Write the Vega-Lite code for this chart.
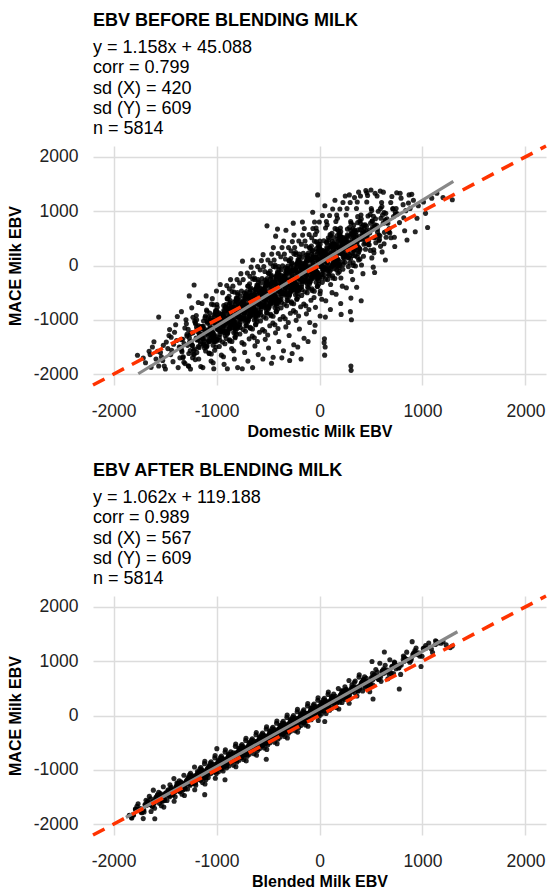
{
"$schema": "https://vega.github.io/schema/vega-lite/v6.json",
"background": "white",
"padding": {"left": 7, "top": 12, "right": 0, "bottom": 0},
"spacing": 23,
"config": {
 "view": {"stroke": null},
 "font": "Liberation Sans",
 "axis": {"grid": true, "gridColor": "#dcdcdc", "gridWidth": 1.5, "domain": false, "ticks": false, "labelFont": "Liberation Sans", "labelFontSize": 17.5, "labelColor": "#222222", "titleFont": "Liberation Sans", "titleFontSize": 16, "titleFontWeight": "bold", "titleColor": "#000000", "labelExpr": "datum.value + ''"},
 "axisX": {"labelPadding": 17, "titlePadding": 3.5},
 "axisY": {"labelPadding": 15, "titlePadding": 10},
 "title": {"anchor": "start", "frame": "group", "font": "Liberation Sans", "fontSize": 18, "fontWeight": "bold", "color": "#000000", "subtitleFont": "Liberation Sans", "subtitleFontSize": 18, "subtitleColor": "#000000", "subtitleLineHeight": 20.2, "subtitlePadding": 9, "offset": 1}
},
"datasets": {
"before": [
{"x":-1768,"y":-1652},{"x":-1712,"y":-1705},{"x":-1655,"y":-1580},{"x":-1690,"y":-1790},{"x":-1562,"y":-950},
{"x":-1645,"y":-1640},{"x":-1588,"y":-1720},{"x":-1623,"y":-1500},{"x":-1562,"y":-1850},{"x":-1608,"y":-1405},{"x":-1573,"y":-1580},{"x":-1636,"y":-1875},
{"x":-1545,"y":-1600},{"x":-1488,"y":-1410},{"x":-1523,"y":-1750},{"x":-1462,"y":-1290},{"x":-1508,"y":-1850},{"x":-1473,"y":-1530},{"x":-1536,"y":-1680},{"x":-1497,"y":-1905},{"x":-1456,"y":-1180},{"x":-1517,"y":-1470},
{"x":-1445,"y":-1640},{"x":-1388,"y":-1380},{"x":-1423,"y":-1770},{"x":-1362,"y":-1500},{"x":-1408,"y":-1230},{"x":-1373,"y":-1880},{"x":-1436,"y":-1560},{"x":-1397,"y":-1090},{"x":-1356,"y":-1700},{"x":-1417,"y":-1450},{"x":-1381,"y":-940},{"x":-1441,"y":-1320},
{"x":-1345,"y":-1520},{"x":-1288,"y":-1300},{"x":-1323,"y":-1680},{"x":-1262,"y":-1410},{"x":-1308,"y":-1150},{"x":-1273,"y":-1850},{"x":-1336,"y":-1590},{"x":-1297,"y":-1000},{"x":-1256,"y":-1260},{"x":-1317,"y":-1780},{"x":-1281,"y":-1470},{"x":-1341,"y":-850},{"x":-1269,"y":-1620},{"x":-1329,"y":-1360},{"x":-1253,"y":-1905},{"x":-1265,"y":-560},
{"x":-1245,"y":-1400},{"x":-1188,"y":-1180},{"x":-1223,"y":-1560},{"x":-1162,"y":-1290},{"x":-1208,"y":-1050},{"x":-1173,"y":-1720},{"x":-1236,"y":-1470},{"x":-1197,"y":-920},{"x":-1156,"y":-1130},{"x":-1217,"y":-1640},{"x":-1181,"y":-1350},{"x":-1241,"y":-780},{"x":-1169,"y":-1510},{"x":-1229,"y":-1240},{"x":-1153,"y":-1860},{"x":-1212,"y":-1020},{"x":-1192,"y":-1600},{"x":-1218,"y":-360},{"x":-1177,"y":-680},
{"x":-1145,"y":-1280},{"x":-1088,"y":-1060},{"x":-1123,"y":-1440},{"x":-1062,"y":-1170},{"x":-1108,"y":-930},{"x":-1073,"y":-1610},{"x":-1136,"y":-1350},{"x":-1097,"y":-820},{"x":-1056,"y":-1010},{"x":-1117,"y":-1520},{"x":-1081,"y":-1230},{"x":-1141,"y":-700},{"x":-1069,"y":-1390},{"x":-1129,"y":-1120},{"x":-1053,"y":-1760},{"x":-1112,"y":-960},{"x":-1092,"y":-1480},{"x":-1078,"y":-1300},{"x":-1133,"y":-1880},{"x":-1101,"y":-560},{"x":-1058,"y":-1200},
{"x":-1045,"y":-1150},{"x":-988,"y":-950},{"x":-1023,"y":-1320},{"x":-962,"y":-1060},{"x":-1008,"y":-830},{"x":-973,"y":-1490},{"x":-1036,"y":-1230},{"x":-997,"y":-720},{"x":-956,"y":-900},{"x":-1017,"y":-1400},{"x":-981,"y":-1120},{"x":-1041,"y":-610},{"x":-969,"y":-1270},{"x":-1029,"y":-1000},{"x":-953,"y":-1650},{"x":-1012,"y":-860},{"x":-992,"y":-1360},{"x":-978,"y":-1190},{"x":-1033,"y":-1790},{"x":-1001,"y":-470},{"x":-958,"y":-1080},{"x":-1019,"y":-1560},{"x":-985,"y":-980},{"x":-964,"y":-350},{"x":-1027,"y":-1900},
{"x":-945,"y":-1030},{"x":-888,"y":-840},{"x":-923,"y":-1200},{"x":-862,"y":-950},{"x":-908,"y":-720},{"x":-873,"y":-1370},{"x":-936,"y":-1110},{"x":-897,"y":-610},{"x":-856,"y":-790},{"x":-917,"y":-1290},{"x":-881,"y":-1000},{"x":-941,"y":-500},{"x":-869,"y":-1150},{"x":-929,"y":-890},{"x":-853,"y":-1530},{"x":-912,"y":-760},{"x":-892,"y":-1240},{"x":-878,"y":-1070},{"x":-933,"y":-1680},{"x":-901,"y":-370},{"x":-858,"y":-960},{"x":-919,"y":-1440},{"x":-885,"y":-870},{"x":-864,"y":-260},{"x":-927,"y":-1820},{"x":-905,"y":-1060},{"x":-871,"y":-680},{"x":-938,"y":-1160},{"x":-895,"y":-1900},{"x":-876,"y":-430},
{"x":-845,"y":-910},{"x":-788,"y":-720},{"x":-823,"y":-1090},{"x":-762,"y":-830},{"x":-808,"y":-600},{"x":-773,"y":-1260},{"x":-836,"y":-990},{"x":-797,"y":-500},{"x":-756,"y":-680},{"x":-817,"y":-1170},{"x":-781,"y":-880},{"x":-841,"y":-380},{"x":-769,"y":-1040},{"x":-829,"y":-770},{"x":-753,"y":-1420},{"x":-812,"y":-640},{"x":-792,"y":-1130},{"x":-778,"y":-950},{"x":-833,"y":-1570},{"x":-801,"y":-260},{"x":-758,"y":-840},{"x":-819,"y":-1330},{"x":-785,"y":-750},{"x":-764,"y":-150},{"x":-827,"y":-1720},{"x":-805,"y":-940},{"x":-771,"y":-560},{"x":-838,"y":-1050},{"x":-795,"y":-1880},{"x":-776,"y":-320},{"x":-748,"y":80},{"x":-815,"y":-1230},{"x":-787,"y":-1010},{"x":-750,"y":-1900},
{"x":-745,"y":-790},{"x":-688,"y":-600},{"x":-723,"y":-970},{"x":-662,"y":-710},{"x":-708,"y":-480},{"x":-673,"y":-1140},{"x":-736,"y":-870},{"x":-697,"y":-380},{"x":-656,"y":-560},{"x":-717,"y":-1050},{"x":-681,"y":-760},{"x":-741,"y":-260},{"x":-669,"y":-920},{"x":-729,"y":-650},{"x":-653,"y":-1300},{"x":-712,"y":-520},{"x":-692,"y":-1010},{"x":-678,"y":-830},{"x":-733,"y":-1450},{"x":-701,"y":-140},{"x":-658,"y":-720},{"x":-719,"y":-1210},{"x":-685,"y":-630},{"x":-664,"y":-30},{"x":-727,"y":-1600},{"x":-705,"y":-820},{"x":-671,"y":-440},{"x":-738,"y":-930},{"x":-695,"y":-1760},{"x":-676,"y":-200},{"x":-648,"y":100},{"x":-715,"y":-1110},{"x":-687,"y":-890},{"x":-650,"y":-1880},{"x":-722,"y":-560},{"x":-683,"y":-1350},{"x":-660,"y":-700},
{"x":-645,"y":-670},{"x":-588,"y":-480},{"x":-623,"y":-850},{"x":-562,"y":-590},{"x":-608,"y":-360},{"x":-573,"y":-1020},{"x":-636,"y":-750},{"x":-597,"y":-260},{"x":-556,"y":-440},{"x":-617,"y":-930},{"x":-581,"y":-640},{"x":-641,"y":-140},{"x":-569,"y":-800},{"x":-629,"y":-530},{"x":-553,"y":-1180},{"x":-612,"y":-400},{"x":-592,"y":-890},{"x":-578,"y":-710},{"x":-633,"y":-1330},{"x":-601,"y":-20},{"x":-558,"y":-600},{"x":-619,"y":-1090},{"x":-585,"y":-510},{"x":-564,"y":90},{"x":-627,"y":-1480},{"x":-605,"y":-700},{"x":-571,"y":-320},{"x":-638,"y":-810},{"x":-595,"y":-1640},{"x":-576,"y":-80},{"x":-548,"y":200},{"x":-615,"y":-990},{"x":-587,"y":-770},{"x":-550,"y":-1720},{"x":-622,"y":-440},{"x":-583,"y":-1230},{"x":-560,"y":-580},{"x":-603,"y":-1400},{"x":-631,"y":-230},
{"x":-545,"y":-550},{"x":-488,"y":-360},{"x":-523,"y":-730},{"x":-462,"y":-470},{"x":-508,"y":-240},{"x":-473,"y":-900},{"x":-536,"y":-630},{"x":-497,"y":-140},{"x":-456,"y":-320},{"x":-517,"y":-810},{"x":-481,"y":-520},{"x":-541,"y":-20},{"x":-469,"y":-680},{"x":-529,"y":-410},{"x":-453,"y":-1060},{"x":-512,"y":-280},{"x":-492,"y":-770},{"x":-478,"y":-590},{"x":-533,"y":-1210},{"x":-501,"y":100},{"x":-458,"y":-480},{"x":-519,"y":-970},{"x":-485,"y":-390},{"x":-464,"y":210},{"x":-527,"y":-1360},{"x":-505,"y":-580},{"x":-471,"y":-200},{"x":-538,"y":-690},{"x":-495,"y":-1520},{"x":-476,"y":40},{"x":-448,"y":330},{"x":-515,"y":-870},{"x":-487,"y":-650},{"x":-450,"y":-1690},{"x":-522,"y":-320},{"x":-483,"y":-1110},{"x":-460,"y":-460},{"x":-503,"y":-1280},{"x":-531,"y":-110},{"x":-510,"y":730},{"x":-466,"y":-1800},
{"x":-445,"y":-430},{"x":-388,"y":-240},{"x":-423,"y":-610},{"x":-362,"y":-350},{"x":-408,"y":-120},{"x":-373,"y":-780},{"x":-436,"y":-510},{"x":-397,"y":-20},{"x":-356,"y":-200},{"x":-417,"y":-690},{"x":-381,"y":-400},{"x":-441,"y":100},{"x":-369,"y":-560},{"x":-429,"y":-290},{"x":-353,"y":-940},{"x":-412,"y":-160},{"x":-392,"y":-650},{"x":-378,"y":-470},{"x":-433,"y":-1090},{"x":-401,"y":220},{"x":-358,"y":-360},{"x":-419,"y":-850},{"x":-385,"y":-270},{"x":-364,"y":330},{"x":-427,"y":-1240},{"x":-405,"y":-460},{"x":-371,"y":-80},{"x":-438,"y":-570},{"x":-395,"y":-1400},{"x":-376,"y":160},{"x":-348,"y":450},{"x":-415,"y":-750},{"x":-387,"y":-530},{"x":-350,"y":-1570},{"x":-422,"y":-200},{"x":-383,"y":-990},{"x":-360,"y":-340},{"x":-403,"y":-1160},{"x":-431,"y":10},{"x":-408,"y":670},{"x":-366,"y":-1700},{"x":-426,"y":540},
{"x":-345,"y":-320},{"x":-288,"y":-130},{"x":-323,"y":-500},{"x":-262,"y":-240},{"x":-308,"y":-10},{"x":-273,"y":-670},{"x":-336,"y":-400},{"x":-297,"y":90},{"x":-256,"y":-90},{"x":-317,"y":-580},{"x":-281,"y":-290},{"x":-341,"y":210},{"x":-269,"y":-450},{"x":-329,"y":-180},{"x":-253,"y":-830},{"x":-312,"y":-50},{"x":-292,"y":-540},{"x":-278,"y":-360},{"x":-333,"y":-980},{"x":-301,"y":330},{"x":-258,"y":-250},{"x":-319,"y":-740},{"x":-285,"y":-160},{"x":-264,"y":440},{"x":-327,"y":-1130},{"x":-305,"y":-350},{"x":-271,"y":30},{"x":-338,"y":-460},{"x":-295,"y":-1290},{"x":-276,"y":270},{"x":-248,"y":560},{"x":-315,"y":-640},{"x":-287,"y":-420},{"x":-250,"y":-1460},{"x":-322,"y":-90},{"x":-283,"y":-880},{"x":-260,"y":-230},{"x":-303,"y":-1050},{"x":-331,"y":120},{"x":-255,"y":780},{"x":-266,"y":-1620},{"x":-326,"y":650},{"x":-290,"y":-1750},
{"x":-245,"y":-200},{"x":-188,"y":-10},{"x":-223,"y":-380},{"x":-162,"y":-120},{"x":-208,"y":110},{"x":-173,"y":-550},{"x":-236,"y":-280},{"x":-197,"y":210},{"x":-156,"y":30},{"x":-217,"y":-460},{"x":-181,"y":-170},{"x":-241,"y":330},{"x":-169,"y":-330},{"x":-229,"y":-60},{"x":-153,"y":-710},{"x":-212,"y":70},{"x":-192,"y":-420},{"x":-178,"y":-240},{"x":-233,"y":-860},{"x":-201,"y":450},{"x":-158,"y":-130},{"x":-219,"y":-620},{"x":-185,"y":-40},{"x":-164,"y":560},{"x":-227,"y":-1010},{"x":-205,"y":-230},{"x":-171,"y":150},{"x":-238,"y":-340},{"x":-195,"y":-1170},{"x":-176,"y":390},{"x":-148,"y":680},{"x":-215,"y":-520},{"x":-187,"y":-300},{"x":-150,"y":-1340},{"x":-222,"y":30},{"x":-183,"y":-760},{"x":-160,"y":-110},{"x":-203,"y":-930},{"x":-231,"y":240},{"x":-166,"y":800},{"x":-211,"y":-1500},{"x":-179,"y":-1720},
{"x":-145,"y":-80},{"x":-88,"y":110},{"x":-123,"y":-260},{"x":-62,"y":0},{"x":-108,"y":230},{"x":-73,"y":-430},{"x":-136,"y":-160},{"x":-97,"y":330},{"x":-56,"y":150},{"x":-117,"y":-340},{"x":-81,"y":-50},{"x":-141,"y":450},{"x":-69,"y":-210},{"x":-129,"y":60},{"x":-53,"y":-590},{"x":-112,"y":190},{"x":-92,"y":-300},{"x":-78,"y":-120},{"x":-133,"y":-740},{"x":-101,"y":570},{"x":-58,"y":-10},{"x":-119,"y":-500},{"x":-85,"y":80},{"x":-64,"y":680},{"x":-127,"y":-890},{"x":-105,"y":-110},{"x":-71,"y":270},{"x":-138,"y":-220},{"x":-95,"y":-1050},{"x":-76,"y":510},{"x":-48,"y":800},{"x":-115,"y":-400},{"x":-87,"y":-180},{"x":-50,"y":-1220},{"x":-122,"y":150},{"x":-83,"y":-640},{"x":-60,"y":10},{"x":-103,"y":-810},{"x":-131,"y":360},{"x":-66,"y":980},{"x":-111,"y":-1400},
{"x":-45,"y":40},{"x":12,"y":230},{"x":-23,"y":-140},{"x":38,"y":120},{"x":-8,"y":350},{"x":27,"y":-310},{"x":-36,"y":-40},{"x":3,"y":450},{"x":44,"y":270},{"x":-17,"y":-220},{"x":19,"y":70},{"x":-41,"y":570},{"x":31,"y":-90},{"x":-4,"y":180},{"x":8,"y":-470},{"x":-29,"y":310},{"x":47,"y":-180},{"x":-12,"y":0},{"x":22,"y":-620},{"x":-33,"y":690},{"x":15,"y":110},{"x":-20,"y":-380},{"x":35,"y":200},{"x":-2,"y":800},{"x":-39,"y":-770},{"x":25,"y":10},{"x":-14,"y":390},{"x":41,"y":-100},{"x":6,"y":-930},{"x":-26,"y":630},{"x":28,"y":920},{"x":-10,"y":-280},{"x":33,"y":-60},{"x":-43,"y":-1100},{"x":17,"y":270},{"x":5,"y":-520},{"x":52,"y":1100},{"x":-18,"y":1300},{"x":48,"y":-1350},{"x":55,"y":-1500},{"x":50,"y":-1650},{"x":45,"y":-1420},
{"x":55,"y":160},{"x":112,"y":350},{"x":77,"y":-20},{"x":138,"y":240},{"x":92,"y":470},{"x":127,"y":-190},{"x":64,"y":80},{"x":103,"y":570},{"x":144,"y":390},{"x":83,"y":-100},{"x":119,"y":190},{"x":59,"y":690},{"x":131,"y":30},{"x":96,"y":300},{"x":108,"y":-350},{"x":71,"y":430},{"x":147,"y":-60},{"x":88,"y":120},{"x":122,"y":-500},{"x":67,"y":810},{"x":115,"y":230},{"x":80,"y":-260},{"x":135,"y":320},{"x":98,"y":920},{"x":61,"y":-650},{"x":125,"y":130},{"x":86,"y":510},{"x":141,"y":20},{"x":106,"y":-810},{"x":74,"y":750},{"x":128,"y":1040},{"x":90,"y":-160},{"x":133,"y":60},{"x":57,"y":-950},{"x":117,"y":390},{"x":150,"y":1200},
{"x":155,"y":280},{"x":212,"y":470},{"x":177,"y":100},{"x":238,"y":360},{"x":192,"y":590},{"x":227,"y":-70},{"x":164,"y":200},{"x":203,"y":690},{"x":244,"y":510},{"x":183,"y":20},{"x":219,"y":310},{"x":159,"y":810},{"x":231,"y":150},{"x":196,"y":420},{"x":208,"y":-230},{"x":171,"y":550},{"x":247,"y":60},{"x":188,"y":240},{"x":222,"y":-380},{"x":167,"y":930},{"x":215,"y":350},{"x":180,"y":-140},{"x":235,"y":440},{"x":198,"y":1040},{"x":161,"y":-530},{"x":225,"y":250},{"x":186,"y":630},{"x":241,"y":140},{"x":206,"y":-700},{"x":174,"y":870},{"x":228,"y":1160},{"x":190,"y":-40},{"x":250,"y":1280},{"x":210,"y":-900},
{"x":255,"y":400},{"x":312,"y":590},{"x":277,"y":220},{"x":338,"y":480},{"x":292,"y":700},{"x":327,"y":50},{"x":264,"y":320},{"x":303,"y":810},{"x":344,"y":630},{"x":283,"y":140},{"x":319,"y":430},{"x":259,"y":930},{"x":331,"y":270},{"x":296,"y":540},{"x":308,"y":-110},{"x":271,"y":670},{"x":347,"y":180},{"x":288,"y":360},{"x":322,"y":-260},{"x":267,"y":1050},{"x":315,"y":470},{"x":280,"y":-20},{"x":335,"y":560},{"x":298,"y":1160},{"x":261,"y":-410},{"x":325,"y":370},{"x":305,"y":-600},{"x":300,"y":-850},{"x":310,"y":-1000},{"x":305,"y":-1850},{"x":307,"y":-1930},{"x":290,"y":1300},{"x":340,"y":1250},
{"x":355,"y":520},{"x":412,"y":710},{"x":377,"y":340},{"x":438,"y":600},{"x":392,"y":820},{"x":427,"y":170},{"x":364,"y":440},{"x":403,"y":930},{"x":444,"y":750},{"x":383,"y":260},{"x":419,"y":550},{"x":359,"y":1050},{"x":431,"y":390},{"x":396,"y":660},{"x":408,"y":10},{"x":371,"y":790},{"x":447,"y":300},{"x":388,"y":480},{"x":422,"y":-150},{"x":367,"y":1170},{"x":415,"y":590},{"x":380,"y":100},{"x":435,"y":680},{"x":398,"y":1280},{"x":361,"y":-400},{"x":425,"y":490},{"x":450,"y":1380},{"x":405,"y":-650},
{"x":455,"y":630},{"x":512,"y":820},{"x":477,"y":450},{"x":538,"y":720},{"x":492,"y":940},{"x":527,"y":290},{"x":464,"y":560},{"x":503,"y":1050},{"x":544,"y":860},{"x":483,"y":380},{"x":519,"y":670},{"x":459,"y":1170},{"x":531,"y":510},{"x":496,"y":780},{"x":508,"y":140},{"x":471,"y":910},{"x":547,"y":420},{"x":488,"y":600},{"x":522,"y":-30},{"x":467,"y":1290},{"x":515,"y":700},{"x":535,"y":-130},{"x":500,"y":1390},
{"x":555,"y":740},{"x":612,"y":930},{"x":577,"y":560},{"x":638,"y":820},{"x":592,"y":1050},{"x":627,"y":400},{"x":564,"y":670},{"x":603,"y":1160},{"x":644,"y":960},{"x":583,"y":480},{"x":619,"y":780},{"x":559,"y":1280},{"x":631,"y":610},{"x":596,"y":870},{"x":608,"y":250},{"x":571,"y":1000},{"x":647,"y":520},{"x":620,"y":1350},{"x":640,"y":100},
{"x":655,"y":860},{"x":712,"y":1040},{"x":677,"y":680},{"x":738,"y":940},{"x":692,"y":1160},{"x":727,"y":520},{"x":664,"y":780},{"x":703,"y":1270},{"x":744,"y":1050},{"x":683,"y":600},{"x":719,"y":900},{"x":750,"y":1340},{"x":731,"y":350},
{"x":755,"y":950},{"x":812,"y":1120},{"x":777,"y":790},{"x":838,"y":1010},{"x":792,"y":1240},{"x":827,"y":640},{"x":864,"y":1150},{"x":783,"y":1330},{"x":819,"y":880},{"x":850,"y":470},{"x":870,"y":1300},
{"x":880,"y":1050},{"x":912,"y":1200},{"x":947,"y":870},{"x":930,"y":620},{"x":896,"y":1310},{"x":960,"y":1100},
{"x":1010,"y":1170},{"x":1050,"y":700},{"x":1090,"y":1240},{"x":1140,"y":1330},{"x":1200,"y":1250},{"x":1290,"y":1210},{"x":1030,"y":960},
{"x":380,"y":1350},{"x":460,"y":1340},{"x":540,"y":1330},{"x":590,"y":1370},
{"x":-1348,"y":-1508},{"x":-1287,"y":-1267},{"x":-1327,"y":-1697},{"x":-1264,"y":-1334},{"x":-1306,"y":-1806},{"x":-1276,"y":-1176},{"x":-1339,"y":-1559},{"x":-1293,"y":-1073},{"x":-1255,"y":-1565},{"x":-1316,"y":-1436},{"x":-1271,"y":-1851},{"x":-1344,"y":-1364},
{"x":-1152,"y":-1297},{"x":-1213,"y":-1538},{"x":-1173,"y":-1108},{"x":-1236,"y":-1471},{"x":-1194,"y":-999},{"x":-1224,"y":-1629},{"x":-1161,"y":-1246},{"x":-1207,"y":-1732},{"x":-1245,"y":-1240},{"x":-1184,"y":-1369},{"x":-1229,"y":-954},{"x":-1156,"y":-1441},{"x":-1202,"y":-1077},{"x":-1233,"y":-1698},{"x":-1179,"y":-1224},
{"x":-1148,"y":-1277},{"x":-1087,"y":-1036},{"x":-1127,"y":-1466},{"x":-1064,"y":-1103},{"x":-1106,"y":-1575},{"x":-1076,"y":-945},{"x":-1139,"y":-1328},{"x":-1093,"y":-842},{"x":-1055,"y":-1334},{"x":-1116,"y":-1205},{"x":-1071,"y":-1620},{"x":-1144,"y":-1133},{"x":-1098,"y":-1497},{"x":-1067,"y":-876},{"x":-1121,"y":-1350},{"x":-1059,"y":-968},{"x":-1111,"y":-1270},{"x":-1082,"y":-1401},{"x":-1135,"y":-1154},{"x":-1051,"y":-1630},
{"x":-952,"y":-1065},{"x":-1013,"y":-1306},{"x":-973,"y":-876},{"x":-1036,"y":-1239},{"x":-994,"y":-767},{"x":-1024,"y":-1397},{"x":-961,"y":-1014},{"x":-1007,"y":-1500},{"x":-1045,"y":-1008},{"x":-984,"y":-1137},{"x":-1029,"y":-722},{"x":-956,"y":-1209},{"x":-1002,"y":-845},{"x":-1033,"y":-1466},{"x":-979,"y":-992},{"x":-1041,"y":-1374},{"x":-989,"y":-1072},{"x":-1018,"y":-941},{"x":-965,"y":-1188},{"x":-1049,"y":-712},{"x":-997,"y":-1170},{"x":-970,"y":-1373},{"x":-1010,"y":-883},{"x":-1038,"y":-1321},{"x":-975,"y":-1008},
{"x":-948,"y":-1045},{"x":-887,"y":-804},{"x":-927,"y":-1234},{"x":-864,"y":-871},{"x":-906,"y":-1343},{"x":-876,"y":-713},{"x":-939,"y":-1096},{"x":-893,"y":-610},{"x":-855,"y":-1102},{"x":-916,"y":-973},{"x":-871,"y":-1388},{"x":-944,"y":-901},{"x":-898,"y":-1265},{"x":-867,"y":-644},{"x":-921,"y":-1118},{"x":-859,"y":-736},{"x":-911,"y":-1038},{"x":-882,"y":-1169},{"x":-935,"y":-922},{"x":-851,"y":-1398},{"x":-903,"y":-940},{"x":-930,"y":-737},{"x":-890,"y":-1227},{"x":-862,"y":-789},{"x":-925,"y":-1102},{"x":-879,"y":-566},{"x":-942,"y":-1409},{"x":-896,"y":-973},{"x":-873,"y":-1100},{"x":-914,"y":-781},
{"x":-752,"y":-833},{"x":-813,"y":-1074},{"x":-773,"y":-644},{"x":-836,"y":-1007},{"x":-794,"y":-535},{"x":-824,"y":-1165},{"x":-761,"y":-782},{"x":-807,"y":-1268},{"x":-845,"y":-776},{"x":-784,"y":-905},{"x":-829,"y":-490},{"x":-756,"y":-977},{"x":-802,"y":-613},{"x":-833,"y":-1234},{"x":-779,"y":-760},{"x":-841,"y":-1142},{"x":-789,"y":-840},{"x":-818,"y":-709},{"x":-765,"y":-956},{"x":-849,"y":-480},{"x":-797,"y":-938},{"x":-770,"y":-1141},{"x":-810,"y":-651},{"x":-838,"y":-1089},{"x":-775,"y":-776},{"x":-821,"y":-1312},{"x":-758,"y":-469},{"x":-804,"y":-905},{"x":-827,"y":-778},{"x":-786,"y":-1097},
{"x":-748,"y":-814},{"x":-687,"y":-573},{"x":-727,"y":-1003},{"x":-664,"y":-640},{"x":-706,"y":-1112},{"x":-676,"y":-482},{"x":-739,"y":-865},{"x":-693,"y":-379},{"x":-655,"y":-871},{"x":-716,"y":-742},{"x":-671,"y":-1157},{"x":-744,"y":-670},{"x":-698,"y":-1034},{"x":-667,"y":-413},{"x":-721,"y":-887},{"x":-659,"y":-505},{"x":-711,"y":-807},{"x":-682,"y":-938},{"x":-735,"y":-691},{"x":-651,"y":-1167},{"x":-703,"y":-709},{"x":-730,"y":-506},{"x":-690,"y":-996},{"x":-662,"y":-558},{"x":-725,"y":-871},{"x":-679,"y":-335},{"x":-742,"y":-1178},{"x":-696,"y":-742},{"x":-673,"y":-869},{"x":-714,"y":-550},
{"x":-552,"y":-602},{"x":-613,"y":-843},{"x":-573,"y":-413},{"x":-636,"y":-776},{"x":-594,"y":-304},{"x":-624,"y":-934},{"x":-561,"y":-551},{"x":-607,"y":-1037},{"x":-645,"y":-545},{"x":-584,"y":-674},{"x":-629,"y":-259},{"x":-556,"y":-746},{"x":-602,"y":-382},{"x":-633,"y":-1003},{"x":-579,"y":-529},{"x":-641,"y":-911},{"x":-589,"y":-609},{"x":-618,"y":-478},{"x":-565,"y":-725},{"x":-649,"y":-249},{"x":-597,"y":-707},{"x":-570,"y":-910},{"x":-610,"y":-420},{"x":-638,"y":-858},{"x":-575,"y":-545},{"x":-621,"y":-1081},{"x":-558,"y":-238},{"x":-604,"y":-674},{"x":-627,"y":-547},{"x":-586,"y":-866},
{"x":-548,"y":-582},{"x":-487,"y":-341},{"x":-527,"y":-771},{"x":-464,"y":-408},{"x":-506,"y":-880},{"x":-476,"y":-250},{"x":-539,"y":-633},{"x":-493,"y":-147},{"x":-455,"y":-639},{"x":-516,"y":-510},{"x":-471,"y":-925},{"x":-544,"y":-438},{"x":-498,"y":-802},{"x":-467,"y":-181},{"x":-521,"y":-655},{"x":-459,"y":-273},{"x":-511,"y":-575},{"x":-482,"y":-706},{"x":-535,"y":-459},{"x":-451,"y":-935},{"x":-503,"y":-477},{"x":-530,"y":-274},{"x":-490,"y":-764},{"x":-462,"y":-326},{"x":-525,"y":-639},{"x":-479,"y":-103},{"x":-542,"y":-946},{"x":-496,"y":-510},{"x":-473,"y":-637},{"x":-514,"y":-318},
{"x":-352,"y":-370},{"x":-413,"y":-611},{"x":-373,"y":-181},{"x":-436,"y":-544},{"x":-394,"y":-72},{"x":-424,"y":-702},{"x":-361,"y":-319},{"x":-407,"y":-805},{"x":-445,"y":-313},{"x":-384,"y":-442},{"x":-429,"y":-27},{"x":-356,"y":-514},{"x":-402,"y":-150},{"x":-433,"y":-771},{"x":-379,"y":-297},{"x":-441,"y":-679},{"x":-389,"y":-377},{"x":-418,"y":-246},{"x":-365,"y":-493},{"x":-449,"y":-17},{"x":-397,"y":-475},{"x":-370,"y":-678},{"x":-410,"y":-188},{"x":-438,"y":-626},{"x":-375,"y":-313},{"x":-421,"y":-849},{"x":-358,"y":-6},{"x":-404,"y":-442},{"x":-427,"y":-315},{"x":-386,"y":-634},
{"x":-348,"y":-350},{"x":-287,"y":-109},{"x":-327,"y":-539},{"x":-264,"y":-176},{"x":-306,"y":-648},{"x":-276,"y":-18},{"x":-339,"y":-401},{"x":-293,"y":85},{"x":-255,"y":-407},{"x":-316,"y":-278},{"x":-271,"y":-693},{"x":-344,"y":-206},{"x":-298,"y":-570},{"x":-267,"y":51},{"x":-321,"y":-423},{"x":-259,"y":-41},{"x":-311,"y":-343},{"x":-282,"y":-474},{"x":-335,"y":-227},{"x":-251,"y":-703},{"x":-303,"y":-245},{"x":-330,"y":-42},{"x":-290,"y":-532},{"x":-262,"y":-94},{"x":-325,"y":-407},{"x":-279,"y":129},{"x":-342,"y":-714},{"x":-296,"y":-278},{"x":-273,"y":-405},{"x":-314,"y":-86},
{"x":-152,"y":-139},{"x":-213,"y":-380},{"x":-173,"y":50},{"x":-236,"y":-313},{"x":-194,"y":159},{"x":-224,"y":-471},{"x":-161,"y":-88},{"x":-207,"y":-574},{"x":-245,"y":-82},{"x":-184,"y":-211},{"x":-229,"y":204},{"x":-156,"y":-283},{"x":-202,"y":81},{"x":-233,"y":-540},{"x":-179,"y":-66},{"x":-241,"y":-448},{"x":-189,"y":-146},{"x":-218,"y":-15},{"x":-165,"y":-262},{"x":-249,"y":214},{"x":-197,"y":-244},{"x":-170,"y":-447},{"x":-210,"y":43},{"x":-238,"y":-395},{"x":-175,"y":-82},{"x":-221,"y":-618},{"x":-158,"y":225},{"x":-204,"y":-211},{"x":-227,"y":-84},{"x":-186,"y":-403},
{"x":-148,"y":-119},{"x":-87,"y":122},{"x":-127,"y":-308},{"x":-64,"y":55},{"x":-106,"y":-417},{"x":-76,"y":213},{"x":-139,"y":-170},{"x":-93,"y":316},{"x":-55,"y":-176},{"x":-116,"y":-47},{"x":-71,"y":-462},{"x":-144,"y":25},{"x":-98,"y":-339},{"x":-67,"y":282},{"x":-121,"y":-192},{"x":-59,"y":190},{"x":-111,"y":-112},{"x":-82,"y":-243},{"x":-135,"y":4},{"x":-51,"y":-472},{"x":-103,"y":-14},{"x":-130,"y":189},{"x":-90,"y":-301},{"x":-62,"y":137},{"x":-125,"y":-176},{"x":-79,"y":360},{"x":-142,"y":-483},{"x":-96,"y":-47},{"x":-73,"y":-174},{"x":-114,"y":145},
{"x":48,"y":93},{"x":-13,"y":-148},{"x":27,"y":282},{"x":-36,"y":-81},{"x":6,"y":391},{"x":-24,"y":-239},{"x":39,"y":144},{"x":-7,"y":-342},{"x":-45,"y":150},{"x":16,"y":21},{"x":-29,"y":436},{"x":44,"y":-51},{"x":-2,"y":313},{"x":-33,"y":-308},{"x":21,"y":166},{"x":-41,"y":-216},{"x":11,"y":86},{"x":-18,"y":217},{"x":35,"y":-30},{"x":-49,"y":446},{"x":3,"y":-12},{"x":30,"y":-215},{"x":-10,"y":275},{"x":-38,"y":-163},{"x":25,"y":150},{"x":-21,"y":-386},{"x":42,"y":457},{"x":-4,"y":21},{"x":-27,"y":148},{"x":14,"y":-171},
{"x":52,"y":113},{"x":113,"y":354},{"x":73,"y":-76},{"x":136,"y":287},{"x":94,"y":-185},{"x":124,"y":445},{"x":61,"y":62},{"x":107,"y":548},{"x":145,"y":56},{"x":84,"y":185},{"x":129,"y":-230},{"x":56,"y":257},{"x":102,"y":-107},{"x":133,"y":514},{"x":79,"y":40},{"x":141,"y":422},{"x":89,"y":120},{"x":118,"y":-11},{"x":65,"y":236},{"x":149,"y":-240},{"x":97,"y":218},{"x":70,"y":421},{"x":110,"y":-69},{"x":138,"y":369},{"x":75,"y":56},{"x":121,"y":592},{"x":58,"y":-251},{"x":104,"y":185},
{"x":248,"y":325},{"x":187,"y":84},{"x":227,"y":514},{"x":164,"y":151},{"x":206,"y":623},{"x":176,"y":-7},{"x":239,"y":376},{"x":193,"y":-110},{"x":155,"y":382},{"x":216,"y":253},{"x":171,"y":668},{"x":244,"y":181},{"x":198,"y":545},{"x":167,"y":-76},{"x":221,"y":398},{"x":159,"y":16},{"x":211,"y":318},{"x":182,"y":449},{"x":235,"y":202},{"x":151,"y":678},{"x":203,"y":220},{"x":230,"y":17},{"x":190,"y":507},{"x":162,"y":69},{"x":225,"y":382},
{"x":252,"y":344},{"x":313,"y":585},{"x":273,"y":155},{"x":336,"y":518},{"x":294,"y":46},{"x":324,"y":676},{"x":261,"y":293},{"x":307,"y":779},{"x":345,"y":287},{"x":284,"y":416},{"x":329,"y":1},{"x":256,"y":488},{"x":302,"y":124},{"x":333,"y":745},{"x":279,"y":271},{"x":341,"y":653},{"x":289,"y":351},{"x":318,"y":220},{"x":265,"y":467},{"x":349,"y":-9},
{"x":448,"y":556},{"x":387,"y":315},{"x":427,"y":745},{"x":364,"y":382},{"x":406,"y":854},{"x":376,"y":224},{"x":439,"y":607},{"x":393,"y":121},{"x":355,"y":613},{"x":416,"y":484},{"x":371,"y":899},{"x":444,"y":412},{"x":398,"y":776},{"x":367,"y":155},{"x":421,"y":629},
{"x":452,"y":576},{"x":513,"y":817},{"x":473,"y":387},{"x":536,"y":750},{"x":494,"y":278},{"x":524,"y":908},{"x":461,"y":525},{"x":507,"y":1011},{"x":545,"y":519},{"x":484,"y":648},{"x":529,"y":233},{"x":456,"y":720},
{"x":648,"y":788},{"x":587,"y":547},{"x":627,"y":977},{"x":564,"y":614},{"x":606,"y":1086},{"x":576,"y":456},{"x":639,"y":839},{"x":593,"y":353},
{"x":652,"y":808},{"x":713,"y":1049},{"x":673,"y":619},{"x":736,"y":982},{"x":694,"y":510},
{"x":-1098,"y":-1219},{"x":-1037,"y":-1008},{"x":-1077,"y":-1378},{"x":-1014,"y":-1060},{"x":-1056,"y":-1282},{"x":-1026,"y":-907},{"x":-1089,"y":-1255},{"x":-1043,"y":-1044},{"x":-1005,"y":-1366},{"x":-1066,"y":-1157},{"x":-1021,"y":-1277},{"x":-1094,"y":-1020},{"x":-1048,"y":-1244},{"x":-1017,"y":-1048},{"x":-1071,"y":-1402},{"x":-1009,"y":-1085},{"x":-1061,"y":-1017},{"x":-1032,"y":-1273},{"x":-1085,"y":-1191},{"x":-1001,"y":-1392},
{"x":-902,"y":-1007},{"x":-963,"y":-1218},{"x":-923,"y":-848},{"x":-986,"y":-1166},{"x":-944,"y":-944},{"x":-974,"y":-1319},{"x":-911,"y":-971},{"x":-957,"y":-1182},{"x":-995,"y":-860},{"x":-934,"y":-1069},{"x":-979,"y":-949},{"x":-906,"y":-1206},{"x":-952,"y":-982},{"x":-983,"y":-1178},{"x":-929,"y":-824},{"x":-991,"y":-1141},{"x":-939,"y":-1209},{"x":-968,"y":-953},{"x":-915,"y":-1035},{"x":-999,"y":-834},
{"x":-898,"y":-987},{"x":-837,"y":-776},{"x":-877,"y":-1146},{"x":-814,"y":-828},{"x":-856,"y":-1050},{"x":-826,"y":-675},{"x":-889,"y":-1023},{"x":-843,"y":-812},{"x":-805,"y":-1134},{"x":-866,"y":-925},{"x":-821,"y":-1045},{"x":-894,"y":-788},{"x":-848,"y":-1012},{"x":-817,"y":-816},{"x":-871,"y":-1170},{"x":-809,"y":-853},{"x":-861,"y":-785},{"x":-832,"y":-1041},{"x":-885,"y":-959},{"x":-801,"y":-1160},
{"x":-702,"y":-776},{"x":-763,"y":-987},{"x":-723,"y":-617},{"x":-786,"y":-935},{"x":-744,"y":-713},{"x":-774,"y":-1088},{"x":-711,"y":-740},{"x":-757,"y":-951},{"x":-795,"y":-629},{"x":-734,"y":-838},{"x":-779,"y":-718},{"x":-706,"y":-975},{"x":-752,"y":-751},{"x":-783,"y":-947},{"x":-729,"y":-593},{"x":-791,"y":-910},{"x":-739,"y":-978},{"x":-768,"y":-722},{"x":-715,"y":-804},{"x":-799,"y":-603},
{"x":-698,"y":-756},{"x":-637,"y":-545},{"x":-677,"y":-915},{"x":-614,"y":-597},{"x":-656,"y":-819},{"x":-626,"y":-444},{"x":-689,"y":-792},{"x":-643,"y":-581},{"x":-605,"y":-903},{"x":-666,"y":-694},{"x":-621,"y":-814},{"x":-694,"y":-557},{"x":-648,"y":-781},{"x":-617,"y":-585},{"x":-671,"y":-939},{"x":-609,"y":-622},{"x":-661,"y":-554},{"x":-632,"y":-810},{"x":-685,"y":-728},{"x":-601,"y":-929},
{"x":-502,"y":-544},{"x":-563,"y":-755},{"x":-523,"y":-385},{"x":-586,"y":-703},{"x":-544,"y":-481},{"x":-574,"y":-856},{"x":-511,"y":-508},{"x":-557,"y":-719},{"x":-595,"y":-397},{"x":-534,"y":-606},{"x":-579,"y":-486},{"x":-506,"y":-743},{"x":-552,"y":-519},{"x":-583,"y":-715},{"x":-529,"y":-361},{"x":-591,"y":-678},{"x":-539,"y":-746},{"x":-568,"y":-490},{"x":-515,"y":-572},{"x":-599,"y":-371},
{"x":-498,"y":-524},{"x":-437,"y":-313},{"x":-477,"y":-683},{"x":-414,"y":-365},{"x":-456,"y":-587},{"x":-426,"y":-212},{"x":-489,"y":-560},{"x":-443,"y":-349},{"x":-405,"y":-671},{"x":-466,"y":-462},{"x":-421,"y":-582},{"x":-494,"y":-325},{"x":-448,"y":-549},{"x":-417,"y":-353},{"x":-471,"y":-707},{"x":-409,"y":-390},{"x":-461,"y":-322},{"x":-432,"y":-578},{"x":-485,"y":-496},{"x":-401,"y":-697},
{"x":-302,"y":-312},{"x":-363,"y":-523},{"x":-323,"y":-153},{"x":-386,"y":-471},{"x":-344,"y":-249},{"x":-374,"y":-624},{"x":-311,"y":-276},{"x":-357,"y":-487},{"x":-395,"y":-165},{"x":-334,"y":-374},{"x":-379,"y":-254},{"x":-306,"y":-511},{"x":-352,"y":-287},{"x":-383,"y":-483},{"x":-329,"y":-129},{"x":-391,"y":-446},{"x":-339,"y":-514},{"x":-368,"y":-258},{"x":-315,"y":-340},{"x":-399,"y":-139},
{"x":-298,"y":-293},{"x":-237,"y":-82},{"x":-277,"y":-452},{"x":-214,"y":-134},{"x":-256,"y":-356},{"x":-226,"y":19},{"x":-289,"y":-329},{"x":-243,"y":-118},{"x":-205,"y":-440},{"x":-266,"y":-231},{"x":-221,"y":-351},{"x":-294,"y":-94},{"x":-248,"y":-318},{"x":-217,"y":-122},{"x":-271,"y":-476},{"x":-209,"y":-159},{"x":-261,"y":-91},{"x":-232,"y":-347},{"x":-285,"y":-265},{"x":-201,"y":-466},
{"x":-102,"y":-81},{"x":-163,"y":-292},{"x":-123,"y":78},{"x":-186,"y":-240},{"x":-144,"y":-18},{"x":-174,"y":-393},{"x":-111,"y":-45},{"x":-157,"y":-256},{"x":-195,"y":66},{"x":-134,"y":-143},{"x":-179,"y":-23},{"x":-106,"y":-280},{"x":-152,"y":-56},{"x":-183,"y":-252},{"x":-129,"y":102},{"x":-191,"y":-215},{"x":-139,"y":-283},{"x":-168,"y":-27},{"x":-115,"y":-109},{"x":-199,"y":92},
{"x":-98,"y":-61},{"x":-37,"y":150},{"x":-77,"y":-220},{"x":-14,"y":98},{"x":-56,"y":-124},{"x":-26,"y":251},{"x":-89,"y":-97},{"x":-43,"y":114},{"x":-5,"y":-208},{"x":-66,"y":1},{"x":-21,"y":-119},{"x":-94,"y":138},{"x":-48,"y":-86},{"x":-17,"y":110},{"x":-71,"y":-244},{"x":-9,"y":73},{"x":-61,"y":141},{"x":-32,"y":-115},{"x":-85,"y":-33},{"x":-1,"y":-234},
{"x":98,"y":151},{"x":37,"y":-60},{"x":77,"y":310},{"x":14,"y":-8},{"x":56,"y":214},{"x":26,"y":-161},{"x":89,"y":187},{"x":43,"y":-24},{"x":5,"y":298},{"x":66,"y":89},{"x":21,"y":209},{"x":94,"y":-48},{"x":48,"y":176},{"x":17,"y":-20},{"x":71,"y":334},{"x":9,"y":17},{"x":61,"y":-51},{"x":32,"y":205},{"x":85,"y":123},{"x":1,"y":324},
{"x":102,"y":171},{"x":163,"y":382},{"x":123,"y":12},{"x":186,"y":330},{"x":144,"y":108},{"x":174,"y":483},{"x":111,"y":135},{"x":157,"y":346},{"x":195,"y":24},{"x":134,"y":233},{"x":179,"y":113},{"x":106,"y":370},{"x":152,"y":146},{"x":183,"y":342},{"x":129,"y":-12},{"x":191,"y":305},{"x":139,"y":373},{"x":168,"y":117},{"x":115,"y":199},{"x":199,"y":-2},
{"x":298,"y":382},{"x":237,"y":171},{"x":277,"y":541},{"x":214,"y":223},{"x":256,"y":445},{"x":226,"y":70},{"x":289,"y":418},{"x":243,"y":207},{"x":205,"y":529},{"x":266,"y":320},{"x":221,"y":440},{"x":294,"y":183},{"x":248,"y":407},{"x":217,"y":211},{"x":271,"y":565},{"x":209,"y":248},{"x":261,"y":180},{"x":232,"y":436},{"x":285,"y":354},{"x":201,"y":555},
{"x":-1198,"y":-1335},{"x":-1137,"y":-1124},{"x":-1177,"y":-1494},{"x":-1114,"y":-1176},{"x":-1156,"y":-1398},{"x":-1126,"y":-1023},{"x":-1189,"y":-1371},{"x":-1143,"y":-1160},{"x":-1105,"y":-1482},{"x":-1166,"y":-1273},{"x":-1121,"y":-1393},{"x":-1194,"y":-1136},
{"x":398,"y":498},{"x":337,"y":287},{"x":377,"y":657},{"x":314,"y":339},{"x":356,"y":561},{"x":326,"y":186},{"x":389,"y":534},{"x":343,"y":323},{"x":305,"y":645},{"x":366,"y":436},{"x":321,"y":556},{"x":394,"y":299}
],
"after": [
{"x":-1845,"y":-1838},{"x":-1788,"y":-1721},{"x":-1823,"y":-1886},{"x":-1762,"y":-1625},{"x":-1808,"y":-1821},{"x":-1773,"y":-1671},
{"x":-1741,"y":-1712},{"x":-1669,"y":-1580},{"x":-1704,"y":-1775},{"x":-1692,"y":-1633},{"x":-1729,"y":-1745},{"x":-1653,"y":-1489},{"x":-1712,"y":-1898},{"x":-1678,"y":-1654},{"x":-1733,"y":-1779},{"x":-1685,"y":-1561},
{"x":-1565,"y":-1505},{"x":-1602,"y":-1707},{"x":-1639,"y":-1534},{"x":-1575,"y":-1560},{"x":-1614,"y":-1374},{"x":-1645,"y":-1625},{"x":-1588,"y":-1508},{"x":-1623,"y":-1673},{"x":-1562,"y":-1412},{"x":-1608,"y":-1608},{"x":-1573,"y":-1458},{"x":-1636,"y":-1766},
{"x":-1536,"y":-1660},{"x":-1497,"y":-1441},{"x":-1456,"y":-1475},{"x":-1517,"y":-1311},{"x":-1481,"y":-1565},{"x":-1541,"y":-1500},{"x":-1469,"y":-1368},{"x":-1504,"y":-1563},{"x":-1492,"y":-1421},{"x":-1529,"y":-1533},{"x":-1453,"y":-1277},{"x":-1512,"y":-1686},{"x":-1478,"y":-1442},{"x":-1533,"y":-1567},
{"x":-1412,"y":-1580},{"x":-1378,"y":-1336},{"x":-1433,"y":-1461},{"x":-1385,"y":-1243},{"x":-1420,"y":-1403},{"x":-1365,"y":-1293},{"x":-1402,"y":-1495},{"x":-1439,"y":-1322},{"x":-1375,"y":-1348},{"x":-1414,"y":-1162},{"x":-1445,"y":-1413},{"x":-1388,"y":-1296},{"x":-1423,"y":-1461},{"x":-1362,"y":-1200},{"x":-1408,"y":-1396},{"x":-1373,"y":-1246},
{"x":-1288,"y":-1190},{"x":-1323,"y":-1355},{"x":-1262,"y":-1094},{"x":-1308,"y":-1290},{"x":-1273,"y":-1140},{"x":-1336,"y":-1448},{"x":-1297,"y":-1229},{"x":-1256,"y":-1263},{"x":-1317,"y":-1099},{"x":-1281,"y":-1353},{"x":-1341,"y":-1288},{"x":-1269,"y":-1156},{"x":-1304,"y":-1351},{"x":-1292,"y":-1209},{"x":-1329,"y":-1321},{"x":-1253,"y":-1065},{"x":-1312,"y":-1474},{"x":-1278,"y":-1230},
{"x":-1169,"y":-1049},{"x":-1204,"y":-1244},{"x":-1192,"y":-1102},{"x":-1229,"y":-1214},{"x":-1153,"y":-958},{"x":-1212,"y":-1367},{"x":-1178,"y":-1123},{"x":-1233,"y":-1248},{"x":-1185,"y":-1030},{"x":-1220,"y":-1190},{"x":-1165,"y":-1080},{"x":-1202,"y":-1282},{"x":-1239,"y":-1109},{"x":-1175,"y":-1135},{"x":-1214,"y":-949},{"x":-1245,"y":-1200},{"x":-1188,"y":-1083},{"x":-1223,"y":-1248},{"x":-1162,"y":-987},{"x":-1208,"y":-1183},
{"x":-1102,"y":-1176},{"x":-1139,"y":-1003},{"x":-1075,"y":-1029},{"x":-1114,"y":-843},{"x":-1145,"y":-1094},{"x":-1088,"y":-977},{"x":-1123,"y":-1142},{"x":-1062,"y":-881},{"x":-1108,"y":-1077},{"x":-1073,"y":-927},{"x":-1136,"y":-1235},{"x":-1097,"y":-1016},{"x":-1056,"y":-1050},{"x":-1117,"y":-886},{"x":-1081,"y":-1140},{"x":-1141,"y":-1075},{"x":-1069,"y":-943},{"x":-1104,"y":-1138},{"x":-1092,"y":-996},{"x":-1129,"y":-1108},{"x":-1053,"y":-852},{"x":-1112,"y":-1261},
{"x":-997,"y":-910},{"x":-956,"y":-944},{"x":-1017,"y":-780},{"x":-981,"y":-1034},{"x":-1041,"y":-969},{"x":-969,"y":-837},{"x":-1004,"y":-1032},{"x":-992,"y":-890},{"x":-1029,"y":-1002},{"x":-953,"y":-746},{"x":-1012,"y":-1155},{"x":-978,"y":-911},{"x":-1033,"y":-1036},{"x":-985,"y":-818},{"x":-1020,"y":-978},{"x":-965,"y":-868},{"x":-1002,"y":-1070},{"x":-1039,"y":-897},{"x":-975,"y":-923},{"x":-1014,"y":-737},{"x":-1045,"y":-988},{"x":-988,"y":-871},{"x":-1023,"y":-1036},{"x":-962,"y":-775},
{"x":-878,"y":-805},{"x":-933,"y":-930},{"x":-885,"y":-712},{"x":-920,"y":-872},{"x":-865,"y":-762},{"x":-902,"y":-964},{"x":-939,"y":-791},{"x":-875,"y":-817},{"x":-914,"y":-631},{"x":-945,"y":-882},{"x":-888,"y":-765},{"x":-923,"y":-930},{"x":-862,"y":-669},{"x":-908,"y":-865},{"x":-873,"y":-715},{"x":-936,"y":-1023},{"x":-897,"y":-804},{"x":-856,"y":-838},{"x":-917,"y":-674},{"x":-881,"y":-928},{"x":-941,"y":-863},{"x":-869,"y":-731},{"x":-904,"y":-926},{"x":-892,"y":-784},{"x":-929,"y":-896},
{"x":-823,"y":-824},{"x":-762,"y":-563},{"x":-808,"y":-759},{"x":-773,"y":-609},{"x":-836,"y":-917},{"x":-797,"y":-698},{"x":-756,"y":-732},{"x":-817,"y":-568},{"x":-781,"y":-822},{"x":-841,"y":-757},{"x":-769,"y":-625},{"x":-804,"y":-820},{"x":-792,"y":-678},{"x":-829,"y":-790},{"x":-753,"y":-534},{"x":-812,"y":-943},{"x":-778,"y":-699},{"x":-833,"y":-824},{"x":-785,"y":-606},{"x":-820,"y":-766},{"x":-765,"y":-656},{"x":-802,"y":-858},{"x":-839,"y":-685},{"x":-775,"y":-711},{"x":-814,"y":-525},{"x":-845,"y":-776},
{"x":-704,"y":-713},{"x":-692,"y":-571},{"x":-729,"y":-683},{"x":-653,"y":-427},{"x":-712,"y":-836},{"x":-678,"y":-592},{"x":-733,"y":-717},{"x":-685,"y":-499},{"x":-720,"y":-659},{"x":-665,"y":-549},{"x":-702,"y":-751},{"x":-739,"y":-578},{"x":-675,"y":-604},{"x":-714,"y":-418},{"x":-745,"y":-669},{"x":-688,"y":-552},{"x":-723,"y":-717},{"x":-662,"y":-456},{"x":-708,"y":-652},{"x":-673,"y":-502},{"x":-736,"y":-810},{"x":-697,"y":-591},{"x":-656,"y":-625},{"x":-717,"y":-461},{"x":-681,"y":-715},{"x":-741,"y":-650},{"x":-669,"y":-518},
{"x":-639,"y":-472},{"x":-575,"y":-498},{"x":-614,"y":-312},{"x":-645,"y":-563},{"x":-588,"y":-446},{"x":-623,"y":-611},{"x":-562,"y":-350},{"x":-608,"y":-546},{"x":-573,"y":-396},{"x":-636,"y":-704},{"x":-597,"y":-485},{"x":-556,"y":-519},{"x":-617,"y":-355},{"x":-581,"y":-609},{"x":-641,"y":-544},{"x":-569,"y":-412},{"x":-604,"y":-607},{"x":-592,"y":-465},{"x":-629,"y":-577},{"x":-553,"y":-321},{"x":-612,"y":-730},{"x":-578,"y":-486},{"x":-633,"y":-611},{"x":-585,"y":-393},{"x":-620,"y":-553},{"x":-565,"y":-443},{"x":-602,"y":-645},
{"x":-456,"y":-413},{"x":-517,"y":-249},{"x":-481,"y":-503},{"x":-541,"y":-438},{"x":-469,"y":-306},{"x":-504,"y":-501},{"x":-492,"y":-359},{"x":-529,"y":-471},{"x":-453,"y":-215},{"x":-512,"y":-624},{"x":-478,"y":-380},{"x":-533,"y":-505},{"x":-485,"y":-287},{"x":-520,"y":-447},{"x":-465,"y":-337},{"x":-502,"y":-539},{"x":-539,"y":-366},{"x":-475,"y":-392},{"x":-514,"y":-206},{"x":-545,"y":-457},{"x":-488,"y":-340},{"x":-523,"y":-505},{"x":-462,"y":-244},{"x":-508,"y":-440},{"x":-473,"y":-290},{"x":-536,"y":-598},{"x":-497,"y":-379},
{"x":-433,"y":-399},{"x":-385,"y":-181},{"x":-420,"y":-341},{"x":-365,"y":-231},{"x":-402,"y":-433},{"x":-439,"y":-260},{"x":-375,"y":-286},{"x":-414,"y":-100},{"x":-445,"y":-351},{"x":-388,"y":-234},{"x":-423,"y":-399},{"x":-362,"y":-138},{"x":-408,"y":-334},{"x":-373,"y":-184},{"x":-436,"y":-492},{"x":-397,"y":-273},{"x":-356,"y":-307},{"x":-417,"y":-143},{"x":-381,"y":-397},{"x":-441,"y":-332},{"x":-369,"y":-200},{"x":-404,"y":-395},{"x":-392,"y":-253},{"x":-429,"y":-365},{"x":-353,"y":-109},{"x":-412,"y":-518},{"x":-378,"y":-274},
{"x":-262,"y":-32},{"x":-308,"y":-228},{"x":-273,"y":-78},{"x":-336,"y":-386},{"x":-297,"y":-167},{"x":-256,"y":-201},{"x":-317,"y":-37},{"x":-281,"y":-291},{"x":-341,"y":-226},{"x":-269,"y":-94},{"x":-304,"y":-289},{"x":-292,"y":-147},{"x":-329,"y":-259},{"x":-253,"y":-3},{"x":-312,"y":-412},{"x":-278,"y":-168},{"x":-333,"y":-293},{"x":-285,"y":-75},{"x":-320,"y":-235},{"x":-265,"y":-125},{"x":-302,"y":-327},{"x":-339,"y":-154},{"x":-275,"y":-180},{"x":-314,"y":6},{"x":-345,"y":-245},{"x":-288,"y":-128},
{"x":-192,"y":-41},{"x":-229,"y":-153},{"x":-153,"y":103},{"x":-212,"y":-306},{"x":-178,"y":-62},{"x":-233,"y":-187},{"x":-185,"y":31},{"x":-220,"y":-129},{"x":-165,"y":-19},{"x":-202,"y":-221},{"x":-239,"y":-48},{"x":-175,"y":-74},{"x":-214,"y":112},{"x":-245,"y":-139},{"x":-188,"y":-22},{"x":-223,"y":-187},{"x":-162,"y":74},{"x":-208,"y":-122},{"x":-173,"y":28},{"x":-236,"y":-280},{"x":-197,"y":-61},{"x":-156,"y":-95},{"x":-217,"y":69},{"x":-181,"y":-185},{"x":-241,"y":-120},
{"x":-75,"y":33},{"x":-114,"y":219},{"x":-145,"y":-32},{"x":-88,"y":85},{"x":-123,"y":-80},{"x":-62,"y":181},{"x":-108,"y":-15},{"x":-73,"y":135},{"x":-136,"y":-173},{"x":-97,"y":46},{"x":-56,"y":12},{"x":-117,"y":176},{"x":-81,"y":-78},{"x":-141,"y":-13},{"x":-69,"y":119},{"x":-104,"y":-76},{"x":-92,"y":66},{"x":-129,"y":-46},{"x":-53,"y":210},{"x":-112,"y":-199},{"x":-78,"y":45},{"x":-133,"y":-80},{"x":-85,"y":138},{"x":-120,"y":-22},
{"x":-17,"y":282},{"x":19,"y":28},{"x":-41,"y":93},{"x":31,"y":225},{"x":-4,"y":30},{"x":8,"y":172},{"x":-29,"y":60},{"x":47,"y":316},{"x":-12,"y":-93},{"x":22,"y":151},{"x":-33,"y":26},{"x":15,"y":244},{"x":-20,"y":84},{"x":35,"y":194},{"x":-2,"y":-8},{"x":-39,"y":165},{"x":25,"y":139},{"x":-14,"y":325},{"x":-45,"y":74},{"x":12,"y":191},{"x":-23,"y":26},{"x":38,"y":287},
{"x":115,"y":350},{"x":80,"y":190},{"x":135,"y":300},{"x":98,"y":98},{"x":61,"y":271},{"x":125,"y":245},{"x":86,"y":431},{"x":55,"y":180},{"x":112,"y":297},{"x":77,"y":132},{"x":138,"y":393},{"x":92,"y":197},{"x":127,"y":347},{"x":64,"y":39},{"x":103,"y":258},{"x":144,"y":224},{"x":83,"y":388},{"x":119,"y":134},{"x":59,"y":199},{"x":131,"y":331},
{"x":192,"y":304},{"x":227,"y":454},{"x":164,"y":146},{"x":203,"y":365},{"x":244,"y":331},{"x":183,"y":495},{"x":219,"y":241},{"x":159,"y":306},{"x":231,"y":438},{"x":196,"y":243},{"x":208,"y":385},{"x":171,"y":273},{"x":247,"y":529},{"x":188,"y":120},{"x":222,"y":364},{"x":167,"y":239},{"x":215,"y":457},{"x":180,"y":297},
{"x":271,"y":379},{"x":347,"y":635},{"x":288,"y":226},{"x":322,"y":470},{"x":267,"y":345},{"x":315,"y":563},{"x":280,"y":403},{"x":335,"y":513},{"x":298,"y":311},{"x":261,"y":484},{"x":325,"y":458},{"x":286,"y":644},{"x":255,"y":393},{"x":312,"y":510},{"x":277,"y":345},{"x":338,"y":606},
{"x":386,"y":750},{"x":355,"y":499},{"x":412,"y":616},{"x":377,"y":451},{"x":438,"y":712},{"x":392,"y":516},{"x":427,"y":666},{"x":364,"y":358},{"x":403,"y":577},{"x":444,"y":543},{"x":383,"y":707},{"x":419,"y":453},{"x":359,"y":518},{"x":431,"y":650},
{"x":519,"y":559},{"x":459,"y":624},{"x":531,"y":756},{"x":496,"y":561},{"x":508,"y":703},{"x":471,"y":591},{"x":547,"y":847},{"x":488,"y":438},{"x":522,"y":682},{"x":467,"y":557},{"x":515,"y":775},{"x":480,"y":615},
{"x":580,"y":721},{"x":635,"y":831},{"x":598,"y":629},{"x":561,"y":802},{"x":625,"y":776},{"x":586,"y":962},{"x":555,"y":711},{"x":612,"y":828},{"x":577,"y":663},{"x":638,"y":924},
{"x":727,"y":985},{"x":664,"y":677},{"x":703,"y":896},{"x":744,"y":862},{"x":683,"y":1026},{"x":719,"y":772},{"x":659,"y":837},{"x":731,"y":969},{"x":696,"y":774},
{"x":847,"y":1166},{"x":788,"y":757},{"x":822,"y":1001},{"x":767,"y":876},{"x":815,"y":1094},{"x":780,"y":934},{"x":835,"y":1044},
{"x":855,"y":1030},{"x":912,"y":1147},{"x":877,"y":982},{"x":938,"y":1243},{"x":892,"y":1047},{"x":927,"y":1197},
{"x":959,"y":1155},{"x":1031,"y":1287},{"x":996,"y":1092},{"x":1008,"y":1234},{"x":971,"y":1122},
{"x":1135,"y":1362},{"x":1098,"y":1160},{"x":1061,"y":1333},{"x":1125,"y":1307},
{"x":1180,"y":1330},{"x":1230,"y":1300},{"x":1290,"y":1280},{"x":1270,"y":1250},{"x":1200,"y":1360},
{"x":775,"y":488},{"x":520,"y":305},{"x":630,"y":1170},{"x":510,"y":994},{"x":900,"y":1360},{"x":-997,"y":-610},{"x":-1600,"y":-1900},{"x":-1115,"y":-1457},{"x":-918,"y":-1183},{"x":-517,"y":-805},{"x":51,"y":-110},{"x":986,"y":902},
{"x":-1848,"y":-1841},{"x":-1787,"y":-1730},{"x":-1827,"y":-1880},{"x":-1764,"y":-1732},{"x":-1806,"y":-1834},
{"x":-1652,"y":-1638},{"x":-1713,"y":-1749},{"x":-1673,"y":-1599},{"x":-1736,"y":-1747},{"x":-1694,"y":-1645},{"x":-1724,"y":-1790},{"x":-1661,"y":-1632},{"x":-1707,"y":-1733},
{"x":-1648,"y":-1628},{"x":-1587,"y":-1517},{"x":-1627,"y":-1667},{"x":-1564,"y":-1519},{"x":-1606,"y":-1621},{"x":-1576,"y":-1476},{"x":-1639,"y":-1634},{"x":-1593,"y":-1533},{"x":-1555,"y":-1615},{"x":-1616,"y":-1586},
{"x":-1452,"y":-1426},{"x":-1513,"y":-1537},{"x":-1473,"y":-1387},{"x":-1536,"y":-1535},{"x":-1494,"y":-1433},{"x":-1524,"y":-1578},{"x":-1461,"y":-1420},{"x":-1507,"y":-1521},{"x":-1545,"y":-1439},{"x":-1484,"y":-1468},{"x":-1529,"y":-1458},{"x":-1456,"y":-1495},
{"x":-1448,"y":-1416},{"x":-1387,"y":-1305},{"x":-1427,"y":-1455},{"x":-1364,"y":-1307},{"x":-1406,"y":-1409},{"x":-1376,"y":-1264},{"x":-1439,"y":-1422},{"x":-1393,"y":-1321},{"x":-1355,"y":-1403},{"x":-1416,"y":-1374},{"x":-1371,"y":-1384},{"x":-1444,"y":-1347},{"x":-1398,"y":-1391},{"x":-1367,"y":-1305},
{"x":-1252,"y":-1214},{"x":-1313,"y":-1325},{"x":-1273,"y":-1175},{"x":-1336,"y":-1323},{"x":-1294,"y":-1221},{"x":-1324,"y":-1366},{"x":-1261,"y":-1208},{"x":-1307,"y":-1309},{"x":-1345,"y":-1227},{"x":-1284,"y":-1256},{"x":-1329,"y":-1246},{"x":-1256,"y":-1283},{"x":-1302,"y":-1239},{"x":-1333,"y":-1325},{"x":-1279,"y":-1171},{"x":-1341,"y":-1318},
{"x":-1248,"y":-1203},{"x":-1187,"y":-1092},{"x":-1227,"y":-1242},{"x":-1164,"y":-1094},{"x":-1206,"y":-1196},{"x":-1176,"y":-1051},{"x":-1239,"y":-1209},{"x":-1193,"y":-1108},{"x":-1155,"y":-1190},{"x":-1216,"y":-1161},{"x":-1171,"y":-1171},{"x":-1244,"y":-1134},{"x":-1198,"y":-1178},{"x":-1167,"y":-1092},{"x":-1221,"y":-1246},{"x":-1159,"y":-1099},{"x":-1211,"y":-1111},{"x":-1182,"y":-1177},
{"x":-1052,"y":-1001},{"x":-1113,"y":-1112},{"x":-1073,"y":-962},{"x":-1136,"y":-1110},{"x":-1094,"y":-1008},{"x":-1124,"y":-1153},{"x":-1061,"y":-995},{"x":-1107,"y":-1096},{"x":-1145,"y":-1014},{"x":-1084,"y":-1043},{"x":-1129,"y":-1033},{"x":-1056,"y":-1070},{"x":-1102,"y":-1026},{"x":-1133,"y":-1112},{"x":-1079,"y":-958},{"x":-1141,"y":-1105},{"x":-1089,"y":-1093},{"x":-1118,"y":-1027},{"x":-1065,"y":-1019},{"x":-1149,"y":-1008},
{"x":-1048,"y":-991},{"x":-987,"y":-880},{"x":-1027,"y":-1030},{"x":-964,"y":-882},{"x":-1006,"y":-984},{"x":-976,"y":-839},{"x":-1039,"y":-997},{"x":-993,"y":-896},{"x":-955,"y":-978},{"x":-1016,"y":-949},{"x":-971,"y":-959},{"x":-1044,"y":-922},{"x":-998,"y":-966},{"x":-967,"y":-880},{"x":-1021,"y":-1034},{"x":-959,"y":-887},{"x":-1011,"y":-899},{"x":-982,"y":-965},{"x":-1035,"y":-973},{"x":-951,"y":-984},
{"x":-852,"y":-789},{"x":-913,"y":-900},{"x":-873,"y":-750},{"x":-936,"y":-898},{"x":-894,"y":-796},{"x":-924,"y":-941},{"x":-861,"y":-783},{"x":-907,"y":-884},{"x":-945,"y":-802},{"x":-884,"y":-831},{"x":-929,"y":-821},{"x":-856,"y":-858},{"x":-902,"y":-814},{"x":-933,"y":-900},{"x":-879,"y":-746},{"x":-941,"y":-893},{"x":-889,"y":-881},{"x":-918,"y":-815},{"x":-865,"y":-807},{"x":-949,"y":-796},
{"x":-848,"y":-779},{"x":-787,"y":-668},{"x":-827,"y":-818},{"x":-764,"y":-670},{"x":-806,"y":-772},{"x":-776,"y":-627},{"x":-839,"y":-785},{"x":-793,"y":-684},{"x":-755,"y":-766},{"x":-816,"y":-737},{"x":-771,"y":-747},{"x":-844,"y":-710},{"x":-798,"y":-754},{"x":-767,"y":-668},{"x":-821,"y":-822},{"x":-759,"y":-675},{"x":-811,"y":-687},{"x":-782,"y":-753},{"x":-835,"y":-761},{"x":-751,"y":-772},{"x":-803,"y":-699},{"x":-830,"y":-771},
{"x":-652,"y":-576},{"x":-713,"y":-687},{"x":-673,"y":-537},{"x":-736,"y":-685},{"x":-694,"y":-583},{"x":-724,"y":-728},{"x":-661,"y":-570},{"x":-707,"y":-671},{"x":-745,"y":-589},{"x":-684,"y":-618},{"x":-729,"y":-608},{"x":-656,"y":-645},{"x":-702,"y":-601},{"x":-733,"y":-687},{"x":-679,"y":-533},{"x":-741,"y":-680},{"x":-689,"y":-668},{"x":-718,"y":-602},{"x":-665,"y":-594},{"x":-749,"y":-583},{"x":-697,"y":-656},{"x":-670,"y":-584},
{"x":-648,"y":-566},{"x":-587,"y":-455},{"x":-627,"y":-605},{"x":-564,"y":-457},{"x":-606,"y":-559},{"x":-576,"y":-414},{"x":-639,"y":-572},{"x":-593,"y":-471},{"x":-555,"y":-553},{"x":-616,"y":-524},{"x":-571,"y":-534},{"x":-644,"y":-497},{"x":-598,"y":-541},{"x":-567,"y":-455},{"x":-621,"y":-609},{"x":-559,"y":-462},{"x":-611,"y":-474},{"x":-582,"y":-540},{"x":-635,"y":-548},{"x":-551,"y":-559},{"x":-603,"y":-486},{"x":-630,"y":-558},
{"x":-452,"y":-364},{"x":-513,"y":-475},{"x":-473,"y":-325},{"x":-536,"y":-473},{"x":-494,"y":-371},{"x":-524,"y":-516},{"x":-461,"y":-358},{"x":-507,"y":-459},{"x":-545,"y":-377},{"x":-484,"y":-406},{"x":-529,"y":-396},{"x":-456,"y":-433},{"x":-502,"y":-389},{"x":-533,"y":-475},{"x":-479,"y":-321},{"x":-541,"y":-468},{"x":-489,"y":-456},{"x":-518,"y":-390},{"x":-465,"y":-382},{"x":-549,"y":-371},{"x":-497,"y":-444},{"x":-470,"y":-372},
{"x":-448,"y":-354},{"x":-387,"y":-243},{"x":-427,"y":-393},{"x":-364,"y":-245},{"x":-406,"y":-347},{"x":-376,"y":-202},{"x":-439,"y":-360},{"x":-393,"y":-259},{"x":-355,"y":-341},{"x":-416,"y":-312},{"x":-371,"y":-322},{"x":-444,"y":-285},{"x":-398,"y":-329},{"x":-367,"y":-243},{"x":-421,"y":-397},{"x":-359,"y":-250},{"x":-411,"y":-262},{"x":-382,"y":-328},{"x":-435,"y":-336},{"x":-351,"y":-347},{"x":-403,"y":-274},{"x":-430,"y":-346},
{"x":-252,"y":-152},{"x":-313,"y":-263},{"x":-273,"y":-113},{"x":-336,"y":-261},{"x":-294,"y":-159},{"x":-324,"y":-304},{"x":-261,"y":-146},{"x":-307,"y":-247},{"x":-345,"y":-165},{"x":-284,"y":-194},{"x":-329,"y":-184},{"x":-256,"y":-221},{"x":-302,"y":-177},{"x":-333,"y":-263},{"x":-279,"y":-109},{"x":-341,"y":-256},{"x":-289,"y":-244},{"x":-318,"y":-178},{"x":-265,"y":-170},{"x":-349,"y":-159},{"x":-297,"y":-232},{"x":-270,"y":-160},
{"x":-248,"y":-142},{"x":-187,"y":-31},{"x":-227,"y":-181},{"x":-164,"y":-33},{"x":-206,"y":-135},{"x":-176,"y":10},{"x":-239,"y":-148},{"x":-193,"y":-47},{"x":-155,"y":-129},{"x":-216,"y":-100},{"x":-171,"y":-110},{"x":-244,"y":-73},{"x":-198,"y":-117},{"x":-167,"y":-31},{"x":-221,"y":-185},{"x":-159,"y":-38},{"x":-211,"y":-50},{"x":-182,"y":-116},{"x":-235,"y":-124},{"x":-151,"y":-135},
{"x":-52,"y":61},{"x":-113,"y":-50},{"x":-73,"y":100},{"x":-136,"y":-48},{"x":-94,"y":54},{"x":-124,"y":-91},{"x":-61,"y":67},{"x":-107,"y":-34},{"x":-145,"y":48},{"x":-84,"y":19},{"x":-129,"y":29},{"x":-56,"y":-8},{"x":-102,"y":36},{"x":-133,"y":-50},{"x":-79,"y":104},{"x":-141,"y":-43},{"x":-89,"y":-31},{"x":-118,"y":35},{"x":-65,"y":43},{"x":-149,"y":54},
{"x":-48,"y":71},{"x":13,"y":182},{"x":-27,"y":32},{"x":36,"y":180},{"x":-6,"y":78},{"x":24,"y":223},{"x":-39,"y":65},{"x":7,"y":166},{"x":45,"y":84},{"x":-16,"y":113},{"x":29,"y":103},{"x":-44,"y":140},{"x":2,"y":96},{"x":33,"y":182},{"x":-21,"y":28},{"x":41,"y":175},{"x":-11,"y":163},{"x":18,"y":97},
{"x":148,"y":273},{"x":87,"y":162},{"x":127,"y":312},{"x":64,"y":164},{"x":106,"y":266},{"x":76,"y":121},{"x":139,"y":279},{"x":93,"y":178},{"x":55,"y":260},{"x":116,"y":231},{"x":71,"y":241},{"x":144,"y":204},{"x":98,"y":248},{"x":67,"y":162},{"x":121,"y":316},{"x":59,"y":169},
{"x":152,"y":284},{"x":213,"y":395},{"x":173,"y":245},{"x":236,"y":393},{"x":194,"y":291},{"x":224,"y":436},{"x":161,"y":278},{"x":207,"y":379},{"x":245,"y":297},{"x":184,"y":326},{"x":229,"y":316},{"x":156,"y":353},{"x":202,"y":309},{"x":233,"y":395},
{"x":348,"y":486},{"x":287,"y":375},{"x":327,"y":525},{"x":264,"y":377},{"x":306,"y":479},{"x":276,"y":334},{"x":339,"y":492},{"x":293,"y":391},{"x":255,"y":473},{"x":316,"y":444},{"x":271,"y":454},{"x":344,"y":417},
{"x":352,"y":496},{"x":413,"y":607},{"x":373,"y":457},{"x":436,"y":605},{"x":394,"y":503},{"x":424,"y":648},{"x":361,"y":490},{"x":407,"y":591},{"x":445,"y":509},{"x":384,"y":538},
{"x":548,"y":698},{"x":487,"y":587},{"x":527,"y":737},{"x":464,"y":589},{"x":506,"y":691},{"x":476,"y":546},{"x":539,"y":704},{"x":493,"y":603},{"x":455,"y":685},{"x":516,"y":656},
{"x":552,"y":708},{"x":613,"y":819},{"x":573,"y":669},{"x":636,"y":817},{"x":594,"y":715},{"x":624,"y":860},{"x":561,"y":702},{"x":607,"y":803},
{"x":748,"y":911},{"x":687,"y":800},{"x":727,"y":950},{"x":664,"y":802},{"x":706,"y":904},{"x":676,"y":759},{"x":739,"y":917},
{"x":752,"y":921},{"x":813,"y":1032},{"x":773,"y":882},{"x":836,"y":1030},{"x":794,"y":928},{"x":824,"y":1073},
{"x":948,"y":1123},{"x":887,"y":1012},{"x":927,"y":1162},{"x":864,"y":1014},{"x":906,"y":1116},
{"x":952,"y":1133},{"x":1013,"y":1244},{"x":973,"y":1094},{"x":1036,"y":1242},
{"x":1148,"y":1335},{"x":1087,"y":1224},{"x":1127,"y":1374}
]
},
"vconcat": [
{
 "width": 453, "height": 239,
 "title": {"text": "EBV BEFORE BLENDING MILK", "subtitle": ["y = 1.158x + 45.088", "corr = 0.799", "sd (X) = 420", "sd (Y) = 609", "n = 5814"]},
 "encoding": {
  "x": {"field": "x", "type": "quantitative", "scale": {"domain": [-2200, 2200], "nice": false, "zero": false}, "axis": {"values": [-2000, -1000, 0, 1000, 2000], "title": "Domestic Milk EBV"}},
  "y": {"field": "y", "type": "quantitative", "scale": {"domain": [-2200, 2200], "nice": false, "zero": false}, "axis": {"values": [-2000, -1000, 0, 1000, 2000], "title": "MACE Milk EBV"}}
 },
 "layer": [
  {"data": {"name": "before"}, "mark": {"type": "circle", "size": 26, "color": "#000000", "opacity": 0.85}},
  {"data": {"values": [{"x": -1760, "y": -1993}, {"x": 1300, "y": 1550}]}, "mark": {"type": "line", "color": "#888888", "strokeWidth": 3.2}},
  {"data": {"values": [{"x": -2200, "y": -2200}, {"x": 2200, "y": 2200}]}, "mark": {"type": "line", "color": "#ff3300", "strokeWidth": 3.5, "strokeDash": [13, 9]}}
 ]
},
{
 "width": 453, "height": 239,
 "title": {"text": "EBV AFTER BLENDING MILK", "subtitle": ["y = 1.062x + 119.188", "corr = 0.989", "sd (X) = 567", "sd (Y) = 609", "n = 5814"]},
 "encoding": {
  "x": {"field": "x", "type": "quantitative", "scale": {"domain": [-2200, 2200], "nice": false, "zero": false}, "axis": {"values": [-2000, -1000, 0, 1000, 2000], "title": "Blended Milk EBV"}},
  "y": {"field": "y", "type": "quantitative", "scale": {"domain": [-2200, 2200], "nice": false, "zero": false}, "axis": {"values": [-2000, -1000, 0, 1000, 2000], "title": "MACE Milk EBV"}}
 },
 "layer": [
  {"data": {"name": "after"}, "mark": {"type": "circle", "size": 26, "color": "#000000", "opacity": 0.85}},
  {"data": {"values": [{"x": -1880, "y": -1878}, {"x": 1340, "y": 1542}]}, "mark": {"type": "line", "color": "#888888", "strokeWidth": 3.2}},
  {"data": {"values": [{"x": -2200, "y": -2200}, {"x": 2200, "y": 2200}]}, "mark": {"type": "line", "color": "#ff3300", "strokeWidth": 3.5, "strokeDash": [13, 9]}}
 ]
}
]
}
